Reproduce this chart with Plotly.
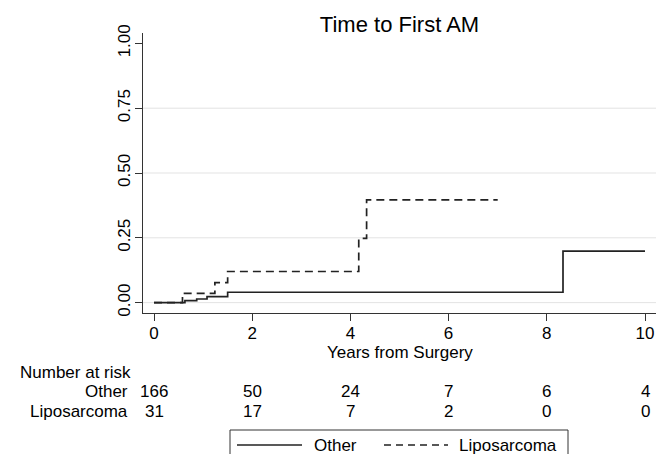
import plotly.graph_objects as go

# ---- data ----
other_x = [0, 0.63, 0.87, 1.08, 1.50, 8.33, 10.0]
other_y = [0, 0.008, 0.014, 0.023, 0.040, 0.199, 0.199]
lipo_x = [0, 0.58, 1.24, 1.50, 4.17, 4.33, 7.0]
lipo_y = [0, 0.036, 0.077, 0.120, 0.248, 0.396, 0.396]

x_ticks = [0, 2, 4, 6, 8, 10]
y_ticks = [0, 0.25, 0.5, 0.75, 1.0]
y_tick_labels = ["0.00", "0.25", "0.50", "0.75", "1.00"]
grid_vals = [0, 0.25, 0.5, 0.75]

risk_groups = ["Other", "Liposarcoma"]
risk_other = [166, 50, 24, 7, 6, 4]
risk_lipo = [31, 17, 7, 2, 0, 0]

title_text = "Time to First AM"
x_title = "Years from Surgery"
risk_title = "Number at risk"

# ---- layout geometry (pixels) ----
W, H = 659, 454
L, R, T, B = 143, 3, 33, 141
PW = W - L - R
PH = H - T - B
FONT = "Liberation Sans, Arial, Helvetica, sans-serif"
LINE_COLOR = "#222222"


def px_x(p):
    return (p - L) / PW


def px_y(p):
    return (H - B - p) / PH


fig = go.Figure()
fig.add_trace(go.Scatter(x=other_x, y=other_y, mode="lines", line_shape="hv",
                         line=dict(color=LINE_COLOR, width=1.7), name="Other",
                         showlegend=False))
fig.add_trace(go.Scatter(x=lipo_x, y=lipo_y, mode="lines", line_shape="hv",
                         line=dict(color=LINE_COLOR, width=1.7, dash="8px,5px"),
                         name="Liposarcoma", showlegend=False))

shapes = []
for g in grid_vals:
    shapes.append(dict(type="line", xref="paper", yref="y", x0=0, x1=1, y0=g, y1=g,
                       line=dict(color="#e3e3e3", width=1), layer="below"))

# manual legend box
shapes.append(dict(type="rect", xref="paper", yref="paper",
                   x0=px_x(230), x1=px_x(568), y0=px_y(430), y1=px_y(470),
                   line=dict(color="#333333", width=1), fillcolor="rgba(0,0,0,0)"))
shapes.append(dict(type="line", xref="paper", yref="paper",
                   x0=px_x(237), x1=px_x(302), y0=px_y(445), y1=px_y(445),
                   line=dict(color=LINE_COLOR, width=1.5)))
shapes.append(dict(type="line", xref="paper", yref="paper",
                   x0=px_x(384), x1=px_x(448), y0=px_y(445), y1=px_y(445),
                   line=dict(color=LINE_COLOR, width=1.5, dash="7px,5px")))

annotations = []
annotations.append(dict(text=x_title, xref="paper", yref="paper", x=0.5, y=px_y(352),
                        xanchor="center", yanchor="middle", showarrow=False,
                        font=dict(size=17, color="black", family=FONT)))
annotations.append(dict(text=risk_title, xref="paper", yref="paper", x=px_x(18), y=px_y(372),
                        xanchor="left", yanchor="middle", showarrow=False,
                        font=dict(size=17, color="black", family=FONT)))
for lab, row, py in [(risk_groups[0], risk_other, 392), (risk_groups[1], risk_lipo, 411)]:
    annotations.append(dict(text=lab, xref="paper", yref="paper", x=px_x(130), y=px_y(py),
                            xanchor="right", yanchor="middle", showarrow=False,
                            font=dict(size=17, color="black", family=FONT)))
    for xv, n in zip(x_ticks, row):
        annotations.append(dict(text=str(n), xref="x", yref="paper", x=xv, y=px_y(py),
                                xanchor="center", yanchor="middle", showarrow=False,
                                font=dict(size=17, color="black", family=FONT)))
annotations.append(dict(text=risk_groups[0], xref="paper", yref="paper", x=px_x(312), y=px_y(445),
                        xanchor="left", yanchor="middle", showarrow=False,
                        font=dict(size=17, color="black", family=FONT)))
annotations.append(dict(text=risk_groups[1], xref="paper", yref="paper", x=px_x(457), y=px_y(445),
                        xanchor="left", yanchor="middle", showarrow=False,
                        font=dict(size=17, color="black", family=FONT)))

fig.update_layout(
    width=W, height=H,
    margin=dict(l=L, r=R, t=T, b=B),
    paper_bgcolor="white", plot_bgcolor="white",
    title=dict(text=title_text, x=0.5, xref="paper", y=1 - 24 / H, yref="container",
               xanchor="center", yanchor="middle",
               font=dict(size=22, color="black", family=FONT)),
    xaxis=dict(range=[-0.224, 10.224], tickvals=x_ticks, ticktext=[str(v) for v in x_ticks],
               showgrid=False, zeroline=False, showline=True, linecolor="#333333", linewidth=1.2,
               ticks="outside", ticklen=7, tickcolor="#333333", tickwidth=1.2,
               ticklabelstandoff=-3,
               tickfont=dict(size=17, color="black", family=FONT)),
    yaxis=dict(range=[-0.04, 1.04], tickvals=y_ticks, ticktext=y_tick_labels,
               showgrid=False, zeroline=False, showline=True, linecolor="#333333", linewidth=1.2,
               ticks="outside", ticklen=7, tickcolor="#333333", tickwidth=1.2, tickangle=-90,
               ticklabelstandoff=-2,
               tickfont=dict(size=17, color="black", family=FONT)),
    shapes=shapes, annotations=annotations, showlegend=False,
)

fig.write_html("out.html", config={"displayModeBar": False},
               post_script="document.body.style.margin='0';document.body.style.overflow='hidden';")
